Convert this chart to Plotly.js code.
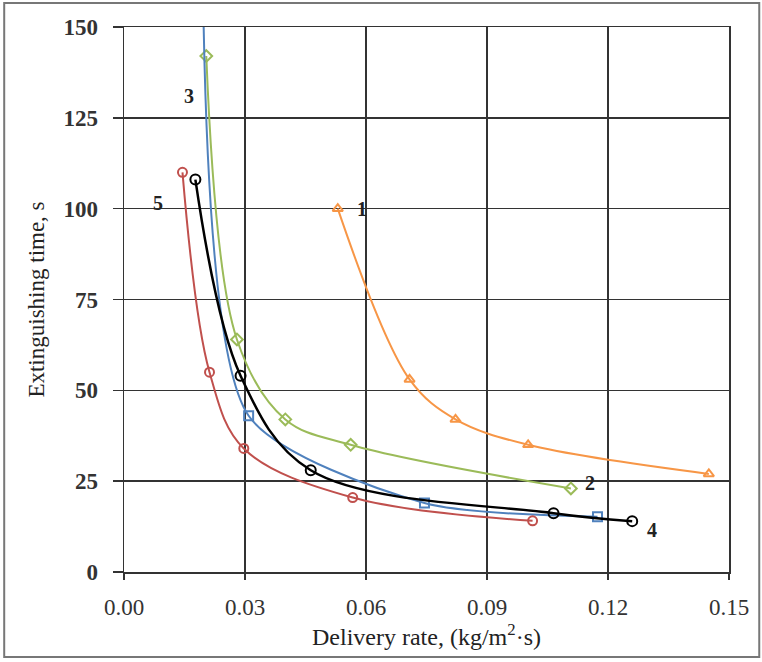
<!DOCTYPE html>
<html>
<head>
<meta charset="utf-8">
<script src="https://cdn.plot.ly/plotly-3.0.1.min.js"></script>
<style>html,body{margin:0;padding:0;background:#fff;}#chart{width:762px;height:662px;}</style>
</head>
<body>
<div id="chart"></div>
<script>
// Series data
const s1x = [0.053, 0.0708, 0.0822, 0.1002, 0.145];
const s1y = [100, 53, 42, 35, 27];
const s2x = [0.0204, 0.028, 0.040, 0.0562, 0.1108];
const s2y = [142, 64, 42, 35, 23];
const s3x = [0.0196, 0.0309, 0.0745, 0.1174];
const s3y = [160, 43, 19, 15.2];
const s4x = [0.0177, 0.0289, 0.0463, 0.1065, 0.126];
const s4y = [108, 54, 28, 16.2, 14];
const s5x = [0.0145, 0.0212, 0.0297, 0.0567, 0.1013];
const s5y = [110, 55, 34, 20.5, 14.1];
const seriesLabels = ["1", "2", "3", "4", "5"];
const labelX = [0.0590, 0.1155, 0.0160, 0.1310, 0.0085];
const labelY = [100, 24.5, 131, 11.5, 101.5];
const xTicks = [0, 0.03, 0.06, 0.09, 0.12, 0.15];
const xTickText = ["0.00", "0.03", "0.06", "0.09", "0.12", "0.15"];
const yTicks = [0, 25, 50, 75, 100, 125, 150];

const serif = "'Liberation Serif', 'DejaVu Serif', serif";
function tr(x, y, color, sym, w, msize, smooth) {
  return {x: x, y: y, type: 'scatter', mode: 'lines+markers',
    line: {color: color, width: w, shape: 'spline', smoothing: smooth},
    marker: {symbol: sym, size: msize, color: color, line: {color: color, width: 2}},
    cliponaxis: true, showlegend: false};
}
const data = [
  tr(s1x, s1y, '#F79646', 'triangle-up-open', 2, 9, 1),
  tr(s2x, s2y, '#9BBB59', 'diamond-open', 2, 9, 1),
  tr(s3x, s3y, '#4F81BD', 'square-open', 2, 9, 0.7),
  tr(s5x, s5y, '#C0504D', 'circle-open', 2, 9, 1),
  tr(s4x, s4y, '#000000', 'circle-open', 2.5, 10, 1)
];
const annotations = seriesLabels.map((t, i) => ({
  x: labelX[i], y: labelY[i], xref: 'x', yref: 'y', text: '<b>' + t + '</b>',
  showarrow: false, font: {family: serif, size: 20, color: '#222'}
}));
const layout = {
  width: 762, height: 662,
  margin: {l: 124, r: 33, t: 27, b: 90},
  paper_bgcolor: '#fff', plot_bgcolor: '#fff',
  font: {family: serif, color: '#222'},
  xaxis: {range: [0, 0.15], tickvals: xTicks, ticktext: xTickText,
    showgrid: true, gridcolor: '#333', gridwidth: 1.5,
    showline: true, linecolor: '#333', linewidth: 1.5, mirror: true,
    ticks: 'outside', ticklen: 6, tickcolor: '#333', tickwidth: 1.5,
    ticklabelstandoff: 8,
    zeroline: false, tickfont: {family: serif, size: 23, color: '#333'},
    title: {text: 'Delivery rate, (kg/m<sup>2</sup>·s)', font: {family: serif, size: 24, color: '#222'}, standoff: 4}},
  yaxis: {range: [0, 150], tickvals: yTicks,
    showgrid: true, gridcolor: '#333', gridwidth: 1.5,
    showline: true, linecolor: '#333', linewidth: 1.5, mirror: true,
    ticks: 'outside', ticklen: 10, tickcolor: '#333', tickwidth: 1.5,
    ticklabelstandoff: 10,
    zeroline: false, tickfont: {family: serif, size: 23, color: '#333', weight: 'bold'},
    title: {text: 'Extinguishing time, s', font: {family: serif, size: 23, color: '#222'}, standoff: 12}},
  annotations: annotations,
  shapes: [{type: 'rect', xref: 'paper', yref: 'paper',
    x0: -0.1980, x1: 1.0500, y0: -0.1560, y1: 1.0440,
    line: {color: '#777', width: 2}, layer: 'below'}]
};
Plotly.newPlot('chart', data, layout, {displayModeBar: false, staticPlot: true});
</script>
</body>
</html>
